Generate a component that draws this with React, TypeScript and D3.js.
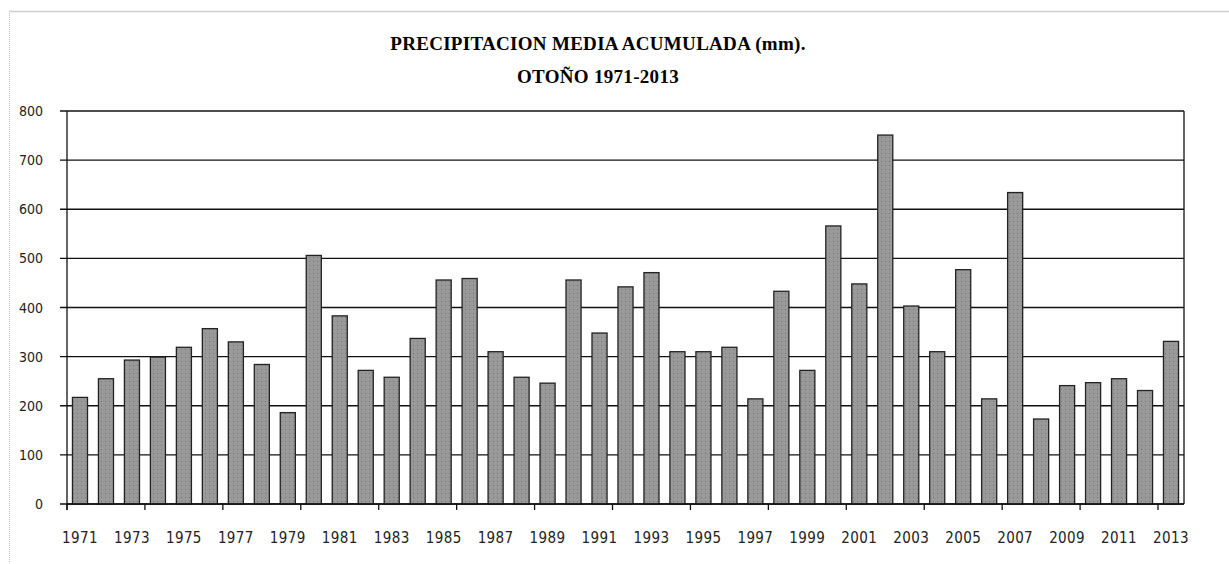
import React from 'react';
import * as d3 from 'd3';

// precipitación media acumulada en otoño (mm), 1971-2013
const years = d3.range(1971, 2014).map(String);
const rainfall = [
  217, 255, 293, 299, 319, 357, 330, 284, 186, 506,
  383, 272, 258, 337, 456, 459, 310, 258, 246, 456,
  348, 442, 471, 310, 310, 319, 214, 433, 272, 566,
  448, 751, 403, 310, 477, 214, 634, 173, 241, 247,
  255, 231, 331,
];
const yTicks = [0, 100, 200, 300, 400, 500, 600, 700, 800];
const titleLines = ['PRECIPITACION MEDIA ACUMULADA (mm).', 'OTOÑO 1971-2013'];

const W = 1229;
const H = 564;
const margin = { top: 111, right: 45, bottom: 60, left: 67 };
const left = margin.left;
const right = W - margin.right;
const top = margin.top;
const bottom = H - margin.bottom;

const labelFont = '"Liberation Sans Narrow", "DejaVu Sans Condensed", Arial, sans-serif';

export default function App() {
  const x = d3.scaleBand<string>()
    .domain(years)
    .range([left, right])
    .paddingInner(0.42)
    .paddingOuter(0.21);

  const y = d3.scaleLinear().domain([0, 800]).range([bottom, top]);

  // Excel puts a tick mark every 3 categories
  const step = x.step();
  const x0 = x(years[0])! - x.paddingOuter() * step;
  const tickBounds = d3.range(0, years.length, 3).map(i => x0 + i * step);

  return (
    <svg width={W} height={H} style={{ position: 'absolute', left: 0, top: 0, background: '#fff' }}>
      <defs>
        <pattern id="dots" width={4} height={4} patternUnits="userSpaceOnUse">
          <rect width={4} height={4} fill="#999" />
          <rect x={1} y={1} width={1} height={1} fill="#777" />
        </pattern>
      </defs>

      {/* marco del gráfico */}
      <line x1={9} x2={W} y1={11.5} y2={11.5} stroke="#cfcfcf" strokeWidth={1.5} />
      <line x1={9.5} x2={9.5} y1={11} y2={H} stroke="#c4c4c4" strokeWidth={1} strokeDasharray="1,1" />

      {titleLines.map((t, i) => (
        <text key={t} x={598} y={50 + i * 33} textAnchor="middle"
          fontFamily='"Liberation Serif", "Times New Roman", serif' fontWeight="bold" fontSize={19}
          letterSpacing={0.3} fill="#000">{t}</text>
      ))}

      {/* rejilla */}
      {yTicks.map(v => (
        <g key={v}>
          <line x1={left - 7} x2={right} y1={y(v)} y2={y(v)} stroke="#111" strokeWidth={1.3} />
          <text x={43} y={y(v) + 5} textAnchor="end" fontFamily={labelFont} fontSize={14}
            fill="#222">{v}</text>
        </g>
      ))}
      <line x1={right} x2={right} y1={top} y2={bottom} stroke="#111" strokeWidth={1.3} />

      {years.map((yr, i) => (
        <rect key={yr} x={x(yr)} y={y(rainfall[i])} width={x.bandwidth()}
          height={y(0) - y(rainfall[i])} fill="url(#dots)" stroke="#222" strokeWidth={1.3} />
      ))}

      {/* ejes */}
      <line x1={left} x2={left} y1={top} y2={bottom + 6} stroke="#111" strokeWidth={1.3} />
      <line x1={left} x2={right} y1={bottom} y2={bottom} stroke="#111" strokeWidth={1.3} />
      {tickBounds.map(tx => (
        <line key={tx} x1={tx} x2={tx} y1={bottom} y2={bottom + 6} stroke="#111" strokeWidth={1.3} />
      ))}
      {years.filter((_, i) => i % 2 === 0).map(yr => (
        <text key={yr} x={x(yr)! + x.bandwidth() / 2} y={543} textAnchor="middle"
          fontFamily={labelFont} fontSize={15} letterSpacing={0.4} fill="#222">{yr}</text>
      ))}
    </svg>
  );
}
